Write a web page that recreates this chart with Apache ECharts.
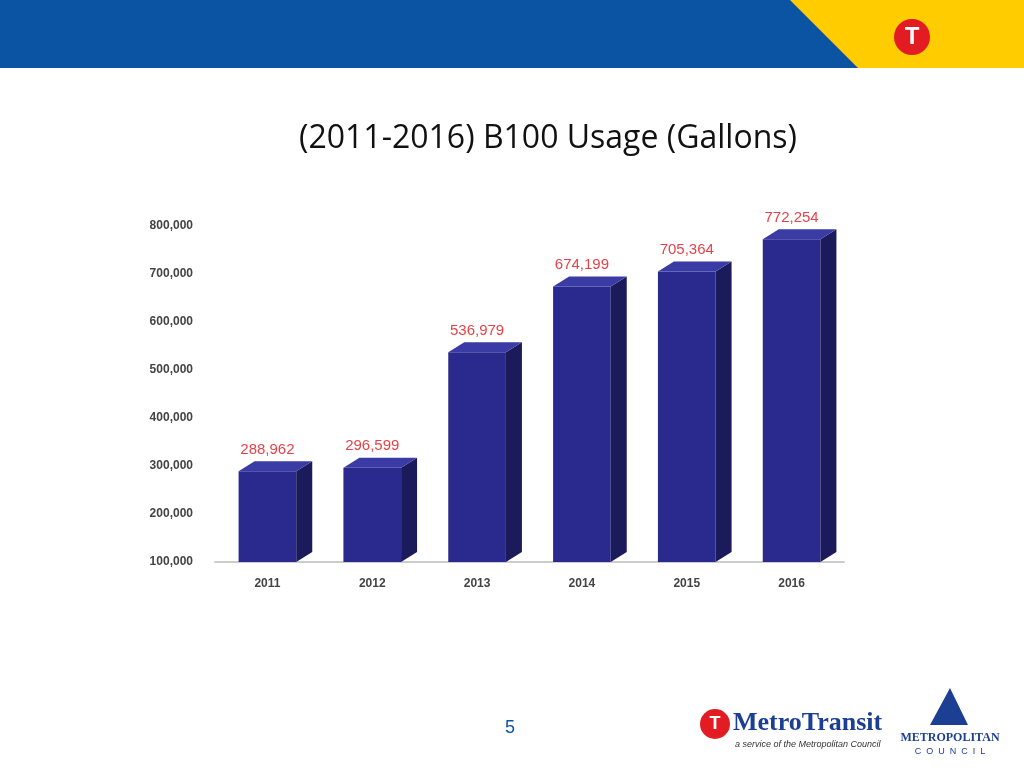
<!DOCTYPE html>
<html><head><meta charset="utf-8">
<script src="https://cdn.jsdelivr.net/npm/echarts@6/dist/echarts.min.js"></script>
<style>html,body{margin:0;padding:0;background:#fff}#c{width:1024px;height:768px}</style>
</head><body><div id="c"></div>
<script>
var years = ['2011', '2012', '2013', '2014', '2015', '2016'];
var gallons = [288962, 296599, 536979, 674199, 705364, 772254];
var yTicks = [100000, 800000, 100000]; // min, max, step

var chart = echarts.init(document.getElementById('c'));

function renderBox(params, api) {
  var top = api.coord([api.value(0), api.value(1)]);
  var base = api.coord([api.value(0), yTicks[0]]);
  var w = api.size([1, 0])[0] * 0.55;
  var d = 16, dy = 10;
  var x0 = top[0] - w / 2, x1 = top[0] + w / 2;
  return {
    type: 'group',
    children: [
      { type: 'rect', shape: { x: x0, y: top[1], width: w, height: base[1] - top[1] },
        style: { fill: '#2a2a8e' } },
      { type: 'polygon', shape: { points: [[x1, top[1]], [x1 + d, top[1] - dy], [x1 + d, base[1] - dy], [x1, base[1]]] },
        style: { fill: '#1b1b5c' } },
      { type: 'polygon', shape: { points: [[x0, top[1]], [x0 + d, top[1] - dy], [x1 + d, top[1] - dy], [x1, top[1]]] },
        style: { fill: '#3b3ba6' } }
    ]
  };
}

chart.setOption({
  animation: false,
  title: {
    text: '(2011-2016) B100 Usage (Gallons)', left: 543, top: 118, textAlign: 'center',
    textStyle: { fontFamily: 'Open Sans', fontWeight: 'normal', fontSize: 32, color: '#111' }
  },
  grid: { left: 215, right: 180, top: 226, bottom: 206 },
  xAxis: {
    type: 'category', data: years,
    axisLine: { lineStyle: { color: '#ccc', width: 2 } }, axisTick: { show: false },
    axisLabel: { fontFamily: 'Arial', fontWeight: 'bold', fontSize: 12, color: '#444', margin: 16 }
  },
  yAxis: {
    type: 'value', min: yTicks[0], max: yTicks[1], interval: yTicks[2],
    splitLine: { show: false }, axisLine: { show: false }, axisTick: { show: false },
    axisLabel: {
      fontFamily: 'Arial', fontWeight: 'bold', fontSize: 12, color: '#444', margin: 22,
      formatter: function (v) { return v.toLocaleString('en-US'); }
    }
  },
  series: [{
    type: 'custom', renderItem: renderBox,
    data: gallons.map(function (v, i) { return [i, v]; }),
    label: {
      show: true, position: 'top', distance: 16, color: '#e0101a', fontFamily: 'Arial', fontSize: 15,
      formatter: function (p) { return p.value[1].toLocaleString('en-US'); }
    }
  }, {
    type: 'scatter', symbolSize: 0, silent: true,
    data: gallons.map(function (v, i) { return [i, v]; }),
    label: {
      show: true, position: 'top', distance: 14, color: '#e0101a', fontFamily: 'Arial', fontSize: 15,
      formatter: function (p) { return p.value[1].toLocaleString('en-US'); }
    }
  }],
  graphic: [
    { type: 'rect', shape: { x: 0, y: 0, width: 1024, height: 68 }, style: { fill: '#0b54a4' } },
    { type: 'polygon', shape: { points: [[790, 0], [1024, 0], [1024, 68], [858, 68]] }, style: { fill: '#ffcc00' } },
    { type: 'circle', shape: { cx: 912, cy: 37, r: 18 }, style: { fill: '#e31b23' } },
    { type: 'text', style: { text: 'T', x: 912, y: 37, align: 'center', verticalAlign: 'middle', fill: '#fff', font: 'bold 24px Arial' } },
    { type: 'text', style: { text: '5', x: 510, y: 728, align: 'center', verticalAlign: 'middle', fill: '#0b54a4', font: '18px Arial' } },
    { type: 'circle', shape: { cx: 715, cy: 724, r: 15 }, style: { fill: '#e31b23' } },
    { type: 'text', style: { text: 'T', x: 715, y: 724, align: 'center', verticalAlign: 'middle', fill: '#fff', font: 'bold 18px Arial' } },
    { type: 'text', style: { text: 'MetroTransit', x: 733, y: 723, verticalAlign: 'middle', fill: '#1c3f94', font: 'bold 26px "Liberation Serif"' } },
    { type: 'text', style: { text: 'a service of the Metropolitan Council', x: 735, y: 744, verticalAlign: 'middle', fill: '#333', font: 'italic 9px Arial' } },
    { type: 'polygon', shape: { points: [[950, 688], [930, 725], [968, 725]] }, style: { fill: '#1c3f94' } },
    { type: 'text', style: { text: 'METROPOLITAN', x: 950, y: 738, align: 'center', verticalAlign: 'middle', fill: '#1c3f94', font: 'bold 12px "Liberation Serif"' } },
    { type: 'text', style: { text: 'C  O  U  N  C  I  L', x: 950, y: 752, align: 'center', verticalAlign: 'middle', fill: '#1c3f94', font: '9px Arial' } }
  ]
});
chart.setOption({ series: [{ label: { show: false } }] });
</script></body></html>
